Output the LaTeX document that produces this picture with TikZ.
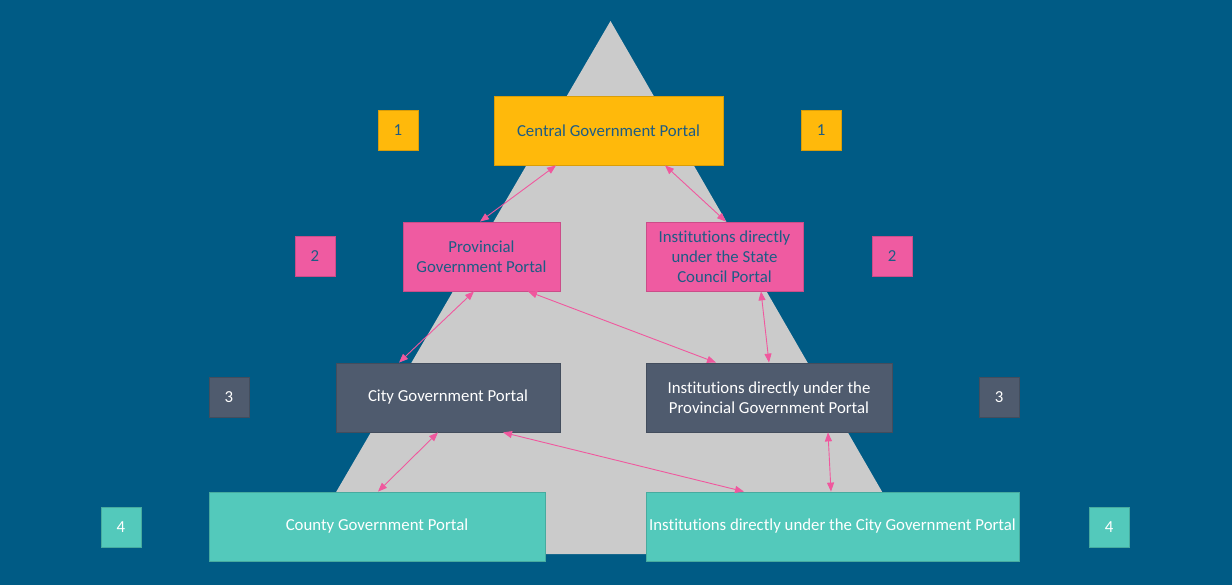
\documentclass[tikz,border=0pt]{standalone}
\usepackage{fontspec}
\setmainfont{Carlito}[Ligatures={NoCommon}]
\usetikzlibrary{arrows.meta}
\definecolor{bg}{HTML}{005B85}
\definecolor{tri}{HTML}{CBCBCB}
\definecolor{gold}{HTML}{FFB90B}
\definecolor{pinkc}{HTML}{EF5BA1}
\definecolor{slate}{HTML}{4F5B6E}
\definecolor{teal}{HTML}{53C9BB}
\definecolor{navytxt}{HTML}{1D5C85}
\definecolor{arr}{HTML}{F0589E}
\tikzset{
  box/.style={rectangle, inner sep=0pt, align=center, font=\fontsize{16.8}{20}\selectfont, line width=0.8pt},
  lvl1/.style={box, fill=gold, draw=gold!85!black, text=navytxt},
  lvl2/.style={box, fill=pinkc, draw=pinkc!85!black, text=navytxt},
  lvl3/.style={box, fill=slate, draw=slate!85!black, text=white},
  lvl4/.style={box, fill=teal, draw=teal!85!black, text=white},
  tag/.style={minimum width=40pt, minimum height=40pt},
  link/.style={draw=arr, line width=0.9pt, {Triangle[length=9pt,width=7pt]}-{Triangle[length=9pt,width=7pt]}}
}
\begin{document}
\begin{tikzpicture}[x=1pt,y=-1pt]
\fill[bg] (0,0) rectangle (1232,585);
\useasboundingbox (0,0) rectangle (1232,585);
\fill[tri] (610.5,21) -- (300,554) -- (918,554) -- cycle;

% level 1
\node[lvl1, minimum width=229pt, minimum height=69pt] (central) at (608.5,130.5) {Central Government Portal};
\node[lvl1, tag] (t1l) at (398,130) {1};
\node[lvl1, tag] (t1r) at (821,130) {1};

% level 2
\node[lvl2, minimum width=157pt, minimum height=69pt] (prov) at (481.5,256.5) {Provincial\\Government Portal};
\node[lvl2, minimum width=157pt, minimum height=69pt] (instsc) at (724.5,256.5) {Institutions directly\\under the State\\Council Portal};
\node[lvl2, tag] (t2l) at (315,256) {2};
\node[lvl2, tag] (t2r) at (892,256) {2};

% level 3
\node[lvl3, minimum width=224pt, minimum height=69pt] (city) at (448,397.5) {City Government Portal};
\node[lvl3, minimum width=246pt, minimum height=69pt] (instprov) at (769,397.5) {Institutions directly under the\\Provincial Government Portal};
\node[lvl3, tag] (t3l) at (229,397) {3};
\node[lvl3, tag] (t3r) at (999,397) {3};

% level 4
\node[lvl4, minimum width=336pt, minimum height=69pt] (county) at (377,526.5) {County Government Portal};
\node[lvl4, minimum width=373pt, minimum height=69pt] (instcity) at (832.5,526.5) {Institutions directly under the City Government Portal};
\node[lvl4, tag] (t4l) at (121,527) {4};
\node[lvl4, tag] (t4r) at (1109,527) {4};

% connectors
\draw[link] ([xshift=-52.5pt]central.south) -- ([xshift=-1.5pt]prov.north);
\draw[link] ([xshift=56.5pt]central.south) -- ([xshift=1.5pt]instsc.north);
\draw[link] ([xshift=-7.5pt]prov.south) -- ([xshift=-49pt]city.north);
\draw[link] ([xshift=46.5pt]prov.south) -- ([xshift=-53pt]instprov.north);
\draw[link] ([xshift=36.5pt]instsc.south) -- ([xshift=0pt]instprov.north);
\draw[link] ([xshift=-10pt]city.south) -- ([xshift=1pt]county.north);
\draw[link] ([xshift=55pt]city.south) -- ([xshift=-88.5pt]instcity.north);
\draw[link] ([xshift=59pt]instprov.south) -- ([xshift=-1.5pt]instcity.north);
\end{tikzpicture}
\end{document}
